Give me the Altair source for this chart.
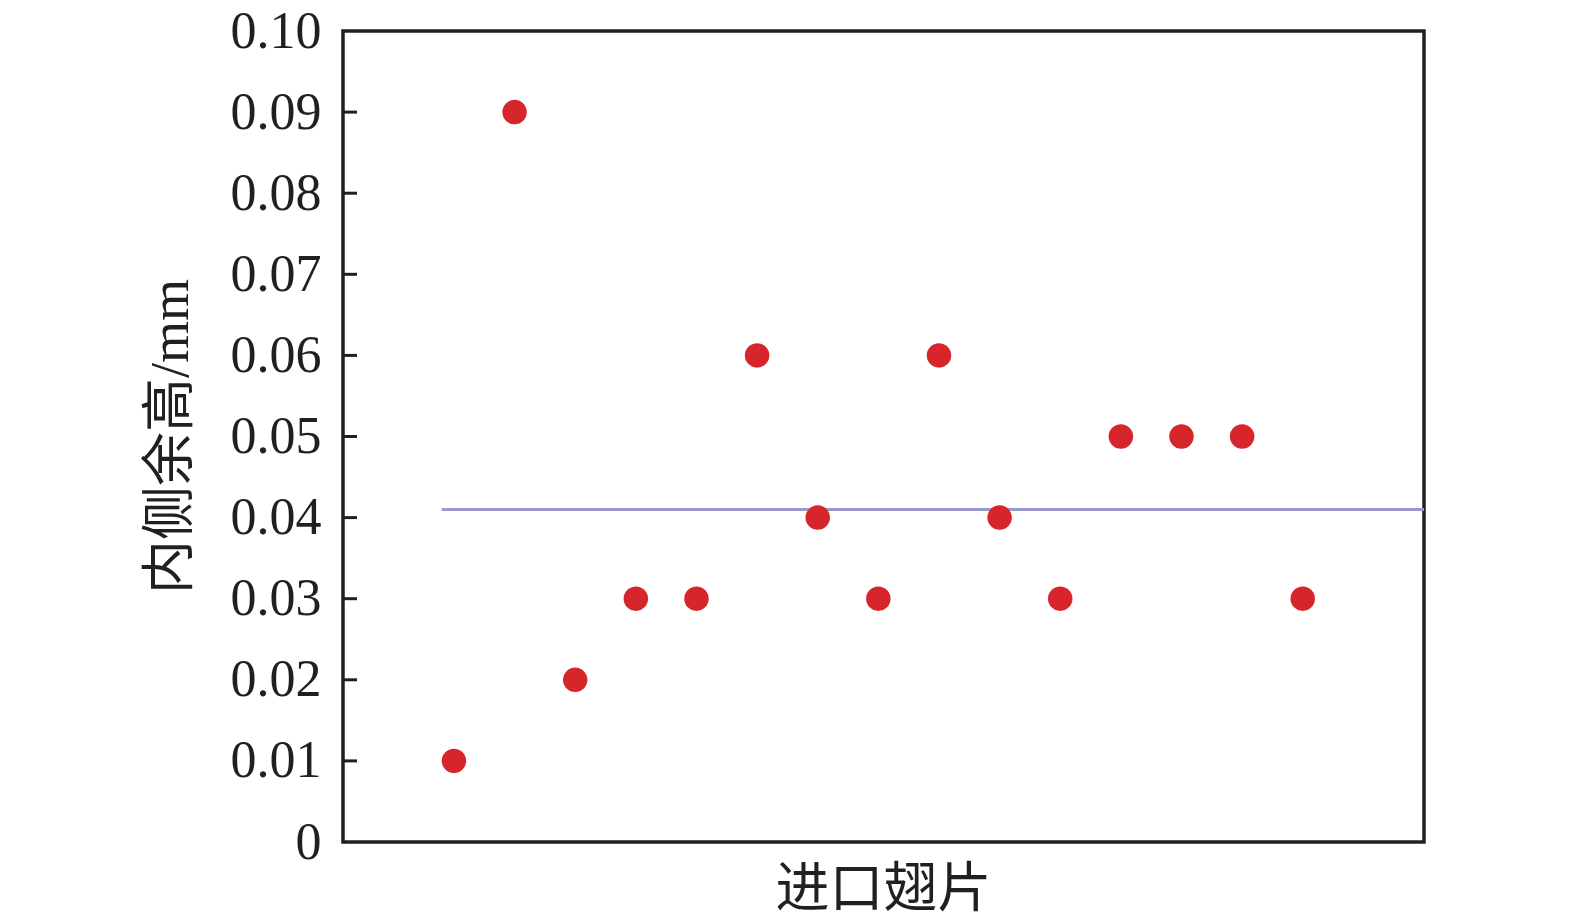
import altair as alt
import pandas as pd

# blade index and measured inner excess height (mm)
blade_no = [1, 2, 3, 4, 5, 6, 7, 8, 9, 10, 11, 12, 13, 14, 15]
inner_height = [0.01, 0.09, 0.02, 0.03, 0.03, 0.06, 0.04, 0.03,
                0.06, 0.04, 0.03, 0.05, 0.05, 0.05, 0.03]

# mean line
mean_value = 0.041
mean_start = 0.8

x_domain = [-0.83, 17.0]
y_ticks = [0, 0.01, 0.02, 0.03, 0.04, 0.05, 0.06, 0.07, 0.08, 0.09, 0.10]
inner_ticks = [0.01, 0.02, 0.03, 0.04, 0.05, 0.06, 0.07, 0.08, 0.09]

points_df = pd.DataFrame({"blade": blade_no, "h": inner_height})
mean_df = pd.DataFrame({"x": [mean_start], "x2": [x_domain[1]], "y": [mean_value]})
ticks_df = pd.DataFrame({"t": inner_ticks})

serif = "Liberation Serif, Noto Sans CJK SC"
ink = "#231f20"

x_enc = alt.X(
    "blade:Q",
    scale=alt.Scale(domain=x_domain, nice=False, zero=False),
    axis=alt.Axis(labels=False, ticks=False, domain=False, grid=False,
                  title="进口翅片", titleFont=serif, titleFontSize=54,
                  titleFontWeight="normal", titleColor=ink,
                  titleX=540, titleY=48, titleBaseline="middle"),
)
y_scale = alt.Scale(domain=[0, 0.1], nice=False)
y_enc = alt.Y(
    "h:Q",
    scale=y_scale,
    axis=alt.Axis(values=y_ticks, ticks=False, domain=False, grid=False,
                  labelExpr="datum.value == 0 ? '0' : format(datum.value, '.2f')",
                  labelFont=serif, labelFontSize=52, labelColor=ink,
                  labelPadding=22,
                  title="内侧余高/mm", titleFont=serif, titleFontSize=54,
                  titleFontWeight="normal", titleColor=ink,
                  titleX=-172, titleY=405, titleAngle=-90,
                  titleAlign="center", titleBaseline="middle"),
)

points = alt.Chart(points_df).mark_circle(
    size=600, color="#d7262b", opacity=1
).encode(x=x_enc, y=y_enc)

mean_line = alt.Chart(mean_df).mark_rule(
    color="#9b98cc", strokeWidth=3
).encode(
    x=alt.X("x:Q", scale=alt.Scale(domain=x_domain, nice=False, zero=False)),
    x2="x2:Q",
    y=alt.Y("y:Q", scale=y_scale),
)

# inward-pointing ticks on the left axis
ticks = alt.Chart(ticks_df).mark_rule(color=ink, strokeWidth=3).encode(
    y=alt.Y("t:Q", scale=y_scale),
    x=alt.value(0),
    x2=alt.value(14),
)

chart = (mean_line + ticks + points).properties(
    width=1081,
    height=811,
    autosize=alt.AutoSizeParams(type="none"),
    padding={"left": 335, "top": 23, "right": 100, "bottom": 72},
).configure_view(
    stroke=ink, strokeWidth=3.5
)

chart.save("out.html", embed_options={"renderer": "svg", "actions": False})
